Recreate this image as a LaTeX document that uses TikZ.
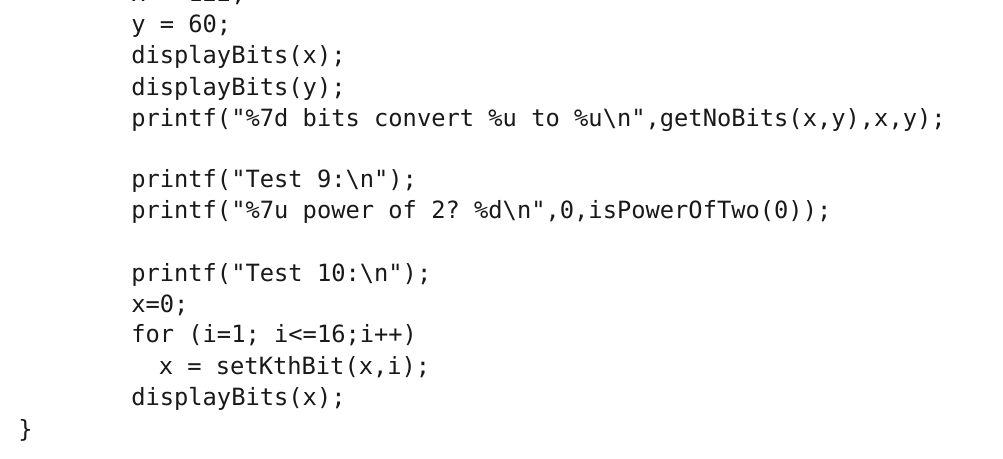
\documentclass[tikz,border=0pt]{standalone}
\usepackage{fontspec}
\setmonofont{DejaVu Sans Mono}
\begin{document}
\begin{tikzpicture}[x=0.75pt,y=-0.75pt,
  code/.style={anchor=base west,inner sep=0pt,font=\ttfamily\fontsize{17.8}{20}\selectfont,text=black!90}]
\useasboundingbox (0,0) rectangle (1003,459);
\clip (0,0) rectangle (1003,459);
\fill[white] (0,0) rectangle (1003,459);
\node[code] (l0) at (131,2) {x = 122;};
\node[code] (l1) at (131,33) {y = 60;};
\node[code] (l2) at (131,64) {displayBits(x);};
\node[code] (l3) at (131,96) {displayBits(y);};
\node[code] (l4) at (131,127) {printf("\%7d bits convert \%u to \%u\textbackslash n",getNoBits(x,y),x,y);};
\node[code] (l6) at (131,188) {printf("Test 9:\textbackslash n");};
\node[code] (l7) at (131,219) {printf("\%7u power of 2? \%d\textbackslash n",0,isPowerOfTwo(0));};
\node[code] (l9) at (131,282) {printf("Test 10:\textbackslash n");};
\node[code] (l10) at (131,313) {x=0;};
\node[code] (l11) at (131,343) {for (i=1; i<=16;i++)};
\node[code] (l12) at (158.5,375) {x = setKthBit(x,i);};
\node[code] (l13) at (131,406) {displayBits(x);};
\node[code] (l14) at (18,437) {\}};
\end{tikzpicture}
\end{document}
